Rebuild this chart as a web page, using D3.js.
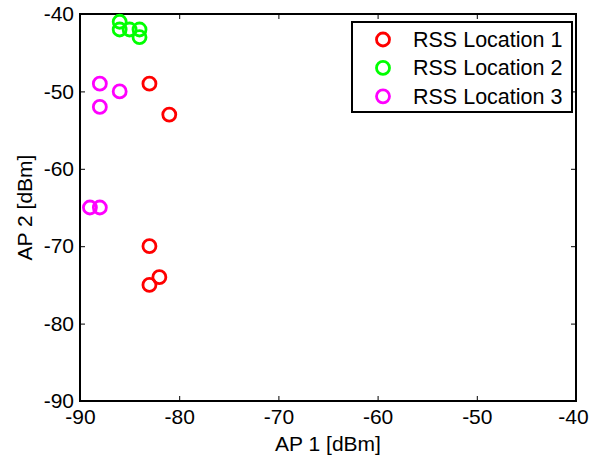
<!DOCTYPE html>
<html>
<head>
<meta charset="utf-8">
<script src="https://cdn.jsdelivr.net/npm/d3@7"></script>
<style>
  body { margin: 0; background: #fff; }
  svg text { font-family: "Liberation Sans", Arial, sans-serif; fill: #000; }
</style>
</head>
<body>
<svg id="chart" width="589" height="457"></svg>
<script>
// RSS readings, [AP 1, AP 2] in dBm
const location1 = [[-83, -49], [-81, -53], [-83, -70], [-82, -74], [-83, -75]];
const location2 = [[-86, -41], [-86, -42], [-85, -42], [-84, -42], [-84, -43]];
const location3 = [[-88, -49], [-86, -50], [-88, -52], [-89, -65], [-88, -65]];
const seriesNames = ['RSS Location 1', 'RSS Location 2', 'RSS Location 3'];
const seriesColors = ['#ff0000', '#00ff00', '#ff00ff'];
const xTicks = [-90, -80, -70, -60, -50, -40];
const yTicks = [-90, -80, -70, -60, -50, -40];

const series = [location1, location2, location3];

const svg = d3.select('#chart');
const margin = { left: 80, right: 13, top: 14, bottom: 56 };
const width = 589 - margin.left - margin.right;
const height = 457 - margin.top - margin.bottom;

const x = d3.scaleLinear().domain([-90, -40]).range([0, width]);
const y = d3.scaleLinear().domain([-90, -40]).range([height, 0]);

const g = svg.append('g').attr('transform', `translate(${margin.left},${margin.top})`);

// axes (ticks point inward, like matlab)
const fmt = d => d3.format('d')(d).replace('−', '-');
const xAxis = g.append('g')
    .attr('transform', `translate(0,${height})`)
    .call(d3.axisBottom(x).tickValues(xTicks).tickFormat(fmt).tickSizeInner(-5).tickSizeOuter(0).tickPadding(8));
const yAxis = g.append('g')
    .call(d3.axisLeft(y).tickValues(yTicks).tickFormat(fmt).tickSizeInner(-5).tickSizeOuter(0).tickPadding(6));
const topAxis = g.append('g')
    .call(d3.axisTop(x).tickValues(xTicks).tickFormat('').tickSizeInner(-5).tickSizeOuter(0));
const rightAxis = g.append('g')
    .attr('transform', `translate(${width},0)`)
    .call(d3.axisRight(y).tickValues(yTicks).tickFormat('').tickSizeInner(-5).tickSizeOuter(0));

[xAxis, yAxis, topAxis, rightAxis].forEach(a => {
    a.select('.domain').remove();
    a.selectAll('line').attr('stroke', '#000').attr('stroke-width', 1);
    a.selectAll('text').attr('font-size', 21).style('font-family', '"Liberation Sans", Arial, sans-serif');
});

// last x label would run off the right edge, nudge it in
xAxis.selectAll('.tick').filter(d => d === -40).select('text').attr('dx', -3);

g.append('rect')
    .attr('width', width)
    .attr('height', height)
    .attr('fill', 'none')
    .attr('stroke', '#000')
    .attr('stroke-width', 2);

// axis titles
g.append('text')
    .attr('x', width / 2)
    .attr('y', height + 50)
    .attr('text-anchor', 'middle')
    .attr('font-size', 21)
    .text('AP 1 [dBm]');

g.append('text')
    .attr('transform', `translate(${32 - margin.left},${height / 2}) rotate(-90)`)
    .attr('text-anchor', 'middle')
    .attr('font-size', 21)
    .text('AP 2 [dBm]');

// points
series.forEach((pts, i) => {
    g.append('g').selectAll('circle')
        .data(pts)
        .enter()
        .append('circle')
        .attr('cx', d => x(d[0]))
        .attr('cy', d => y(d[1]))
        .attr('r', 6.5)
        .attr('fill', 'none')
        .attr('stroke', seriesColors[i])
        .attr('stroke-width', 2.8);
});

// legend
const legend = svg.append('g').attr('transform', 'translate(352,22)');
legend.append('rect')
    .attr('width', 220)
    .attr('height', 90)
    .attr('fill', '#fff')
    .attr('stroke', '#000')
    .attr('stroke-width', 2);

seriesNames.forEach((name, i) => {
    const row = legend.append('g').attr('transform', `translate(0,${17.5 + i * 28.4})`);
    row.append('circle')
        .attr('cx', 31)
        .attr('cy', 0)
        .attr('r', 6.5)
        .attr('fill', 'none')
        .attr('stroke', seriesColors[i])
        .attr('stroke-width', 2.8);
    row.append('text')
        .attr('x', 61)
        .attr('y', 7.5)
        .attr('font-size', 21.5)
        .text(name);
});
</script>
</body>
</html>
